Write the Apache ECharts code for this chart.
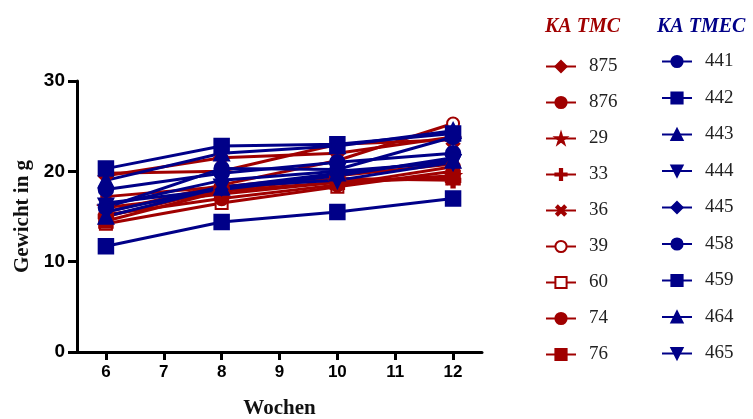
<!DOCTYPE html>
<html lang="de">
<head>
    <meta charset="UTF-8">
    <title>Gewicht KA TMC / KA TMEC</title>
    <style>
        html, body { margin: 0; padding: 0; background: #fff; }
        #chartContainer { width: 753px; height: 419px; }
    </style>
    <script src="https://cdnjs.cloudflare.com/ajax/libs/echarts/6.0.0/echarts.min.js"></script>
</head>
<body>
    <div id="chartContainer"></div>
    <script>
        // weeks on the x axis
        const weeks = [6, 8, 10, 12];
        const xTicks = [6, 7, 8, 9, 10, 11, 12];

        // KA TMC group (red)
        const tmcNames = ['875', '876', '29', '33', '36', '39', '60', '74', '76'];
        const tmc875 = [19.5, 21.5, 22.0, 23.8];
        const tmc876 = [17.2, 18.3, 19.5, 20.8];
        const tmc29 = [16.0, 17.5, 18.8, 19.5];
        const tmc33 = [15.0, 18.0, 19.2, 19.0];
        const tmc36 = [19.8, 20.0, 23.0, 23.5];
        const tmc39 = [15.5, 18.5, 21.2, 25.3];
        const tmc60 = [14.2, 16.5, 18.3, 20.0];
        const tmc74 = [15.2, 17.0, 18.5, 20.5];
        const tmc76 = [14.5, 17.8, 18.8, 19.3];

        // KA TMEC group (blue)
        const tmecNames = ['441', '442', '443', '444', '445', '458', '459', '464', '465'];
        const tmec441 = [18.0, 19.8, 21.0, 22.0];
        const tmec442 = [20.3, 22.8, 23.0, 24.2];
        const tmec443 = [19.0, 22.0, 22.8, 24.5];
        const tmec444 = [15.5, 18.3, 19.0, 21.0];
        const tmec445 = [16.5, 18.0, 19.5, 21.5];
        const tmec458 = [16.0, 20.3, 20.2, 23.8];
        const tmec459 = [11.7, 14.4, 15.5, 17.0];
        const tmec464 = [15.0, 18.2, 19.8, 21.2];
        const tmec465 = [16.2, 19.0, 20.0, 21.0];

        const yTicks = [0, 10, 20, 30];

        const RED = '#a00000';
        const BLUE = '#000088';

        const PLUS = 'path://M4,0h2v4h4v2h-4v4h-2v-4h-4v-2h4z';
        const STAR = 'path://M50,0L61,35L98,35L68,57L79,91L50,70L21,91L32,57L2,35L39,35Z';

        const tmcValues = [tmc875, tmc876, tmc29, tmc33, tmc36, tmc39, tmc60, tmc74, tmc76];
        const tmecValues = [tmec441, tmec442, tmec443, tmec444, tmec445, tmec458, tmec459, tmec464, tmec465];

        // marker look per series
        const tmcMarks = [
            { symbol: 'diamond', size: 14 },
            { symbol: 'circle', size: 9 },
            { symbol: STAR, size: 13 },
            { symbol: PLUS, size: 14 },
            { symbol: PLUS, size: 14, rotate: 45 },
            { symbol: 'emptyCircle', size: 12 },
            { symbol: 'emptyRect', size: 12 },
            { symbol: 'circle', size: 13 },
            { symbol: 'rect', size: 13 }
        ];
        const tmecMarks = [
            { symbol: 'circle', size: 14 },
            { symbol: 'rect', size: 14 },
            { symbol: 'triangle', size: 14 },
            { symbol: 'triangle', size: 14, rotate: 180 },
            { symbol: 'diamond', size: 11 },
            { symbol: 'circle', size: 14 },
            { symbol: 'rect', size: 14 },
            { symbol: 'triangle', size: 14 },
            { symbol: 'triangle', size: 14, rotate: 180 }
        ];

        function makeSeries(name, values, mark, color) {
            return {
                name: name,
                type: 'line',
                data: weeks.map((w, i) => [w, values[i]]),
                symbol: mark.symbol,
                symbolSize: mark.size,
                symbolRotate: mark.rotate || 0,
                showAllSymbol: true,
                lineStyle: { color: color, width: 3 },
                itemStyle: { color: color, borderColor: color, borderWidth: 2.5 },
                emphasis: { disabled: true },
                animation: false
            };
        }

        const series = [];
        tmcNames.forEach((n, i) => series.push(makeSeries(n, tmcValues[i], tmcMarks[i], RED)));
        tmecNames.forEach((n, i) => series.push(makeSeries(n, tmecValues[i], tmecMarks[i], BLUE)));

        const legendText = {
            fontFamily: 'Liberation Serif',
            fontSize: 19,
            color: '#222',
            padding: [0, 0, 0, 8]
        };

        const option = {
            backgroundColor: '#fff',
            animation: false,
            title: [
                {
                    text: 'KA TMC',
                    left: 540,
                    top: 12,
                    textStyle: { fontFamily: 'Liberation Serif', fontStyle: 'italic', fontWeight: 'bold', fontSize: 20, color: RED }
                },
                {
                    text: 'KA TMEC',
                    left: 652,
                    top: 12,
                    textStyle: { fontFamily: 'Liberation Serif', fontStyle: 'italic', fontWeight: 'bold', fontSize: 20, color: BLUE }
                }
            ],
            legend: [
                {
                    data: tmcNames,
                    orient: 'vertical',
                    left: 540,
                    top: 52,
                    itemWidth: 30,
                    itemHeight: 14,
                    itemGap: 17,
                    selectedMode: false,
                    textStyle: legendText
                },
                {
                    data: tmecNames,
                    orient: 'vertical',
                    left: 656,
                    top: 47,
                    itemWidth: 30,
                    itemHeight: 14,
                    itemGap: 17.5,
                    selectedMode: false,
                    textStyle: legendText
                }
            ],
            grid: {
                left: 77,
                right: 271,
                top: 81,
                bottom: 67,
                outerBoundsMode: 'none'
            },
            xAxis: {
                type: 'value',
                min: 5.5,
                max: 12.5,
                name: 'Wochen',
                nameLocation: 'middle',
                nameGap: 46,
                nameTextStyle: { fontFamily: 'Liberation Serif', fontWeight: 'bold', fontSize: 21, color: '#111' },
                splitLine: { show: false },
                axisLine: { onZero: false, lineStyle: { color: '#000', width: 3 } },
                axisTick: { length: 8, customValues: xTicks, lineStyle: { color: '#000', width: 3 } },
                axisLabel: {
                    margin: 12,
                    customValues: xTicks,
                    fontFamily: 'Liberation Sans',
                    fontWeight: 'bold',
                    fontSize: 17,
                    color: '#000'
                }
            },
            yAxis: {
                type: 'value',
                min: yTicks[0],
                max: yTicks[yTicks.length - 1],
                interval: 10,
                name: 'Gewicht in g',
                nameLocation: 'middle',
                nameGap: 42,
                nameRotate: 90,
                nameTextStyle: { fontFamily: 'Liberation Serif', fontWeight: 'bold', fontSize: 21, color: '#111' },
                splitLine: { show: false },
                axisLine: { show: true, lineStyle: { color: '#000', width: 3 } },
                axisTick: { show: true, length: 9, lineStyle: { color: '#000', width: 3 } },
                axisLabel: {
                    margin: 12,
                    fontFamily: 'Liberation Sans',
                    fontWeight: 'bold',
                    fontSize: 19,
                    color: '#000'
                }
            },
            series: series
        };

        const chartDom = document.getElementById('chartContainer');
        const myChart = echarts.init(chartDom, null, { renderer: 'canvas' });
        myChart.setOption(option);
    </script>
</body>
</html>
